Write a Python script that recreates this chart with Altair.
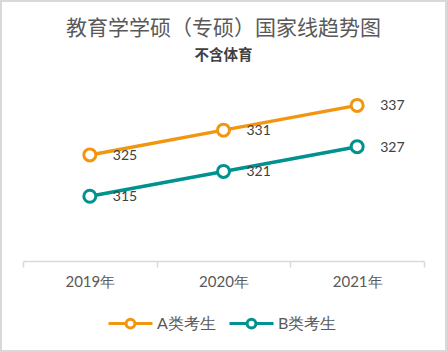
import altair as alt
import pandas as pd

years = ["2019年", "2020年", "2021年"]
series_names = ["A类考生", "B类考生"]
a_values = [325, 331, 337]
b_values = [315, 321, 327]
colors = ["#F29611", "#00928F"]

rows = []
for name, vals in zip(series_names, [a_values, b_values]):
    for yr, v in zip(years, vals):
        rows.append({"year": yr, "series": name, "value": v})
df = pd.DataFrame(rows)

W, H = 401, 168
PL, PT, PR, PB = 23, 93, 23, 91

legend_path = ("M-1,0L-0.2,0M0.2,0L1,0"
               "M-0.2,0A0.2,0.2,0,1,1,0.2,0A0.2,0.2,0,1,1,-0.2,0Z")

x = alt.X("year:N", sort=years, title=None,
          scale=alt.Scale(paddingInner=0, paddingOuter=0),
          axis=alt.Axis(labelAngle=0, tickBand="extent", domainColor="#D9D9D9",
                        domainWidth=1.5, tickColor="#D9D9D9", tickWidth=1.5,
                        tickSize=6, labelPadding=7, labelFontSize=15,
                        labelColor="#595959", labelFont="Lato",
                        grid=False))
y = alt.Y("value:Q", title=None,
          scale=alt.Scale(domain=[299.3, 340], nice=False, zero=False),
          axis=None)
color = alt.Color("series:N", sort=series_names,
                  scale=alt.Scale(domain=series_names, range=colors),
                  legend=alt.Legend(title=None, orient="none", legendX=84,
                                    legendY=207, direction="horizontal",
                                    symbolType=legend_path, symbolSize=1936,
                                    symbolStrokeWidth=3, symbolFillColor="white",
                                    labelFontSize=16, labelColor="#595959",
                                    labelFont="Lato", labelOffset=3,
                                    columnPadding=7))

base = alt.Chart(df)

border = alt.Chart(pd.DataFrame({"a": [0]})).mark_rect(
    fill=None, stroke="#D9D9D9", strokeWidth=2
).encode(x=alt.value(-PL + 1), x2=alt.value(W + PR - 1),
         y=alt.value(-PT + 1), y2=alt.value(H + PB - 1))

lines = base.mark_line(strokeWidth=3.5).encode(x=x, y=y, color=color)
points = base.mark_point(filled=False, fill="white", size=144, strokeWidth=3,
                         opacity=1).encode(x=x, y=y, color=alt.Color("series:N", sort=series_names, legend=None))
labels = base.mark_text(align="left", baseline="middle", dx=23, dy=1,
                        fontSize=14, font="Lato", color="#404040").encode(
    x=x, y=y, text="value:Q")

chart = alt.layer(border, lines, points, labels).properties(
    width=W, height=H,
    autosize=alt.AutoSizeParams(type="none"),
    padding={"left": PL, "top": PT, "right": PR, "bottom": PB},
    title=alt.TitleParams(
        text="教育学学硕（专硕）国家线趋势图",
        subtitle="不含体育",
        font="Noto Sans CJK SC", fontSize=21, fontWeight="normal",
        color="#595959", subtitleFont="Noto Sans CJK SC", subtitleFontSize=14.5,
        subtitleFontWeight="bold", subtitleColor="#404040", subtitlePadding=10,
        anchor="middle", frame="group", offset=-62),
).configure(background="white").configure_view(strokeWidth=0)

chart.save("out.html", embed_options={"renderer": "svg", "actions": False})
